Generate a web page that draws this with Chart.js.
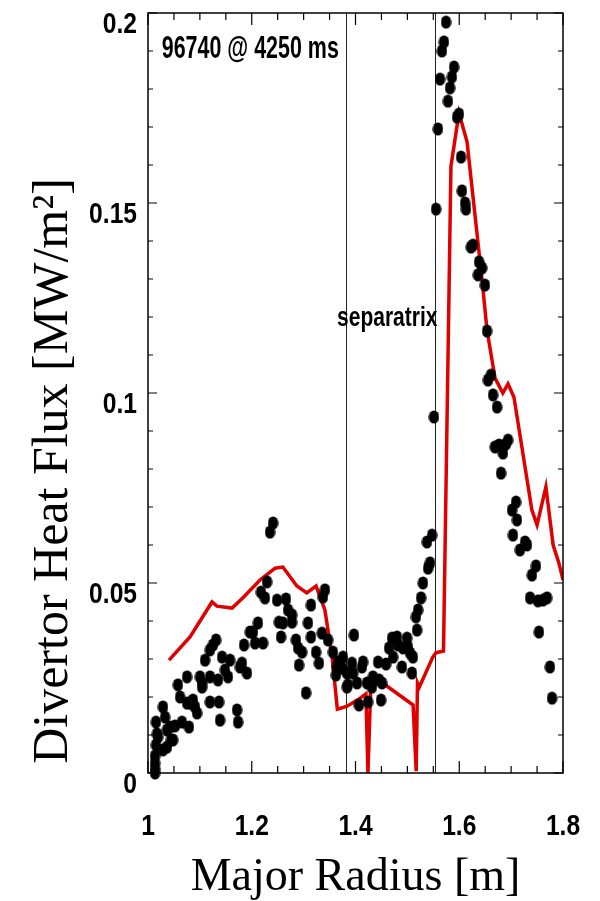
<!DOCTYPE html>
<html>
<head>
<meta charset="utf-8">
<script src="https://cdn.jsdelivr.net/npm/chart.js@4.4.0/dist/chart.umd.min.js"></script>
<style>
  html, body { margin: 0; padding: 0; background: #fff; }
</style>
</head>
<body>
<canvas id="heatFlux" width="600" height="901"></canvas>
<script>
// IR camera heat flux, major radius [m]
var irRadius = [
  1.0135,1.0135,1.0135,1.0135,1.0154,1.0173,1.0154,1.0193,1.0289,1.0328,
  1.0366,1.0366,1.0289,1.0424,1.0443,1.0482,1.052,1.0578,1.0617,1.0655,
  1.0752,1.0752,1.079,1.081,1.0848,1.0867,1.0906,1.0945,1.1002,1.1041,
  1.1041,1.1099,1.1195,1.1195,1.1195,1.1253,1.1311,1.1349,1.1369,1.1388,
  1.1427,1.1484,1.1542,1.1581,1.1716,1.1735,1.1773,1.1812,1.1851,1.1908,
  1.1966,
  1.2024,1.2063,1.212,1.2178,1.2217,1.2255,1.2294,1.2352,1.241,1.2487,
  1.2525,1.2564,1.2602,1.266,1.2699,1.2776,1.2776,1.2853,1.2892,1.2911,
  1.2969,1.3046,1.3084,1.3142,1.3142,1.3239,1.3296,1.3354,1.3373,1.3412,
  1.347,1.3566,1.3624,1.3643,1.3663,1.374,1.3759,1.3836,1.3836,
  1.3855,1.3932,1.3952,1.3971,1.4029,1.4067,1.4125,1.4145,1.4222,1.4241,
  1.4318,1.4337,1.4434,1.4453,1.4492,1.4511,1.4588,1.4646,1.4704,1.4723,
  1.48,1.4819,1.4896,1.4916,1.4993,1.5012,1.5051,1.5089,1.5108,1.5166,
  1.5186,1.5205,1.5263,1.5301,1.5378,1.5398,1.5436,1.5475,
  1.5513,1.5552,1.559,1.5629,1.5667,1.5706,1.5745,1.5783,1.5822,1.586,
  1.5899,1.5957,1.5995,1.6034,1.6053,1.6111,1.613,1.6226,1.6265,1.6361,
  1.6381,1.6439,1.6496,
  1.6535,1.6554,1.6612,1.6651,1.6689,1.6728,1.6766,1.6805,1.6843,1.6901,
  1.694,1.7017,1.7036,1.7094,1.7113,1.7171,1.7268,1.7306,1.7364,1.7402,
  1.7479,1.7518,1.7537,1.7614,1.7692,1.7749,1.7788
];
// IR camera heat flux [MW/m2], same order as irRadius
var irFlux = [
  0.0045,0.0026,0.0011,0.0,0.0134,0.0103,0.0074,0.0095,0.0174,0.0147,
  0.0113,0.0068,0.0061,0.0121,0.0087,0.0087,0.0124,0.0232,0.02,0.0134,
  0.0253,0.0184,0.0121,0.0184,0.0187,0.0192,0.0174,0.0158,0.0253,0.0237,
  0.0226,0.0297,0.0253,0.0187,0.0324,0.0337,0.035,0.0245,0.0187,0.0139,
  0.0305,0.0271,0.0253,0.0297,0.0166,0.0134,0.0279,0.0289,0.0337,0.0263,
  0.0371,
  0.0371,0.0342,0.0395,0.0476,0.0342,0.0461,0.0503,0.0634,0.0658,0.0455,
  0.0397,0.0358,0.0395,0.0458,0.0429,0.0416,0.0397,0.035,0.0329,0.0284,
  0.0318,0.0211,0.0395,0.0442,0.0358,0.0318,0.0289,0.0368,0.0463,0.0482,
  0.035,0.0318,0.0258,0.0279,0.0292,0.0276,0.0305,0.0263,0.0226,
  0.0232,0.0289,0.0263,0.0363,0.0237,0.0179,0.0279,0.0292,0.0237,0.0187,
  0.0226,0.0253,0.0292,0.0245,0.0192,0.0237,0.0287,0.0329,0.0355,0.0305,
  0.0358,0.0337,0.0279,0.0329,0.0355,0.0332,0.0316,0.0263,0.0305,0.0411,
  0.0376,0.0429,0.0461,0.05,0.0608,0.0539,0.0553,0.0626,
  0.0937,0.1484,0.1695,0.1826,0.19,0.1924,0.1976,0.1768,0.1803,0.1832,
  0.1858,0.1726,0.1734,0.1621,0.1532,0.15,0.1484,0.1384,0.1389,0.1311,
  0.1345,0.1329,0.1284,
  0.1163,0.1034,0.1047,0.0995,0.0858,0.0963,0.0863,0.0789,0.0842,0.0866,
  0.0876,0.0692,0.0626,0.0713,0.0666,0.0587,0.0608,0.06,0.0461,0.0521,
  0.0545,0.0453,0.0371,0.0455,0.0461,0.0279,0.0197
];

// modelled profile
var modelRadius = [1.0405,1.081,1.1234,1.133,1.162,1.183,1.216,1.245,1.26,1.287,
  1.306,1.324,1.341,1.355,1.365,1.384,1.409,1.42,1.424,1.43,
  1.457,1.511,1.517,1.5195,1.523,1.549,1.555,1.5696,1.584,1.5995,
  1.615,1.644,1.6535,1.669,1.684,1.694,1.7055,1.74,1.75,1.767,
  1.781,1.792,1.8];
var modelFlux = [0.0297,0.0358,0.045,0.0439,0.0434,0.0461,0.0508,0.0539,0.0542,0.0492,
  0.0474,0.0492,0.0429,0.0305,0.0168,0.0176,0.0197,0.0208,0,0.0253,
  0.0232,0.0179,0.0005,0.0237,0.0226,0.0305,0.0316,0.0321,0.1597,0.1737,
  0.1661,0.1297,0.1166,0.1039,0.1,0.1024,0.0989,0.0692,0.0653,0.0753,
  0.06,0.0553,0.0508];

var separatrixR = [1.3826, 1.5533];

var xTickVals = [1, 1.2, 1.4, 1.6, 1.8];
var xTickText = ['1', '1.2', '1.4', '1.6', '1.8'];
var yTickVals = [0, 0.05, 0.1, 0.15, 0.2];
var yTickText = ['0', '0.05', '0.1', '0.15', '0.2'];

// Liberation Sans Bold squeezed horizontally stands in for a narrow face
var sans = "'Liberation Sans', Arial, sans-serif";
var serif = "'Liberation Serif', 'Times New Roman', serif";

function tickIndex(vals, v) {
  for (var i = 0; i < vals.length; i++) {
    if (Math.abs(vals[i] - v) < 1e-6) return i;
  }
  return -1;
}

function pairs(xs, ys) {
  return xs.map(function(x, i) { return {x: x, y: ys[i]}; });
}

function narrowText(ctx, text, x, y, squeeze, align) {
  ctx.save();
  ctx.translate(x, y);
  ctx.scale(squeeze, 1);
  ctx.textAlign = align || 'left';
  ctx.fillText(text, 0, 0);
  ctx.restore();
}

// filled oval marker, a bit taller than wide
var dot = document.createElement('canvas');
dot.width = 11;
dot.height = 14;
var dctx = dot.getContext('2d');
dctx.fillStyle = '#000';
dctx.beginPath();
dctx.ellipse(5.5, 7, 5.2, 6.6, 0, 0, Math.PI * 2);
dctx.fill();

var framePlugin = {
  id: 'frame',
  beforeDatasetsDraw: function(chart) {
    var ctx = chart.ctx, a = chart.chartArea, xs = chart.scales.x;
    ctx.save();
    ctx.strokeStyle = '#222';
    ctx.lineWidth = 1;
    separatrixR.forEach(function(r) {
      var px = Math.round(xs.getPixelForValue(r)) + 0.5;
      ctx.beginPath();
      ctx.moveTo(px, a.top);
      ctx.lineTo(px, a.bottom);
      ctx.stroke();
    });
    ctx.restore();
  },
  afterDatasetsDraw: function(chart) {
    var ctx = chart.ctx, a = chart.chartArea;
    var xs = chart.scales.x, ys = chart.scales.y;
    ctx.save();
    ctx.strokeStyle = '#000';
    ctx.lineWidth = 1.5;
    ctx.strokeRect(a.left, a.top, a.right - a.left, a.bottom - a.top);

    // inward ticks on all four sides
    ctx.lineWidth = 1.2;
    xs.ticks.forEach(function(t) {
      var px = xs.getPixelForValue(t.value);
      var len = tickIndex(xTickVals, t.value) >= 0 ? 12 : 7;
      ctx.beginPath();
      ctx.moveTo(px, a.bottom);
      ctx.lineTo(px, a.bottom - len);
      ctx.moveTo(px, a.top);
      ctx.lineTo(px, a.top + len);
      ctx.stroke();
    });
    ys.ticks.forEach(function(t) {
      var py = ys.getPixelForValue(t.value);
      var len = tickIndex(yTickVals, t.value) >= 0 ? 9 : 5;
      ctx.beginPath();
      ctx.moveTo(a.left, py);
      ctx.lineTo(a.left + len, py);
      ctx.moveTo(a.right, py);
      ctx.lineTo(a.right - len, py);
      ctx.stroke();
    });

    // tick labels
    ctx.fillStyle = '#000';
    ctx.textBaseline = 'alphabetic';
    ctx.font = 'bold 30px ' + sans;
    xTickVals.forEach(function(v, i) {
      narrowText(ctx, xTickText[i], xs.getPixelForValue(v), a.bottom + 62, 0.82, 'center');
    });
    yTickVals.forEach(function(v, i) {
      narrowText(ctx, yTickText[i], a.left - 11, ys.getPixelForValue(v) + 20, 0.82, 'right');
    });

    // annotations
    ctx.font = 'bold 32px ' + sans;
    narrowText(ctx, '96740 @ 4250 ms', xs.getPixelForValue(1.0265), ys.getPixelForValue(0.1882), 0.67);
    ctx.font = 'bold 28px ' + sans;
    narrowText(ctx, 'separatrix', xs.getPixelForValue(1.3645), ys.getPixelForValue(0.1176), 0.75);

    // axis titles
    ctx.textAlign = 'center';
    ctx.font = '46px ' + serif;
    ctx.fillText('Major Radius [m]', (a.left + a.right) / 2, 890);

    ctx.save();
    ctx.translate(67, 471);
    ctx.rotate(-Math.PI / 2);
    ctx.font = '50px ' + serif;
    ctx.fillText('Divertor Heat Flux [MW/m\u00B2]', 0, 0);
    ctx.restore();

    ctx.restore();
  }
};

new Chart(document.getElementById('heatFlux'), {
  type: 'scatter',
  data: {
    datasets: [{
      label: 'IR data',
      data: pairs(irRadius, irFlux),
      pointStyle: dot,
      pointRadius: 6,
      clip: false,
      order: 0
    }, {
      label: 'model',
      data: pairs(modelRadius, modelFlux),
      showLine: true,
      borderColor: '#e00000',
      borderWidth: 3.5,
      pointRadius: 0,
      tension: 0,
      order: 1
    }]
  },
  plugins: [framePlugin],
  options: {
    responsive: false,
    animation: false,
    devicePixelRatio: 1,
    events: [],
    layout: { padding: { top: 13, right: 37, left: 0, bottom: 0 } },
    plugins: {
      legend: { display: false },
      tooltip: { enabled: false }
    },
    scales: {
      x: {
        type: 'linear',
        min: 1,
        max: 1.8,
        grid: { display: false, drawTicks: false },
        border: { display: false },
        ticks: { stepSize: 0.05, autoSkip: false, display: false },
        afterFit: function(scale) {
          scale.height = 128;
          scale.paddingLeft = 0;
          scale.paddingRight = 0;
        }
      },
      y: {
        type: 'linear',
        min: 0,
        max: 0.2,
        grid: { display: false, drawTicks: false },
        border: { display: false },
        ticks: { stepSize: 0.01, autoSkip: false, display: false },
        afterFit: function(scale) {
          scale.width = 148;
          scale.paddingTop = 0;
          scale.paddingBottom = 0;
        }
      }
    }
  }
});
</script>
</body>
</html>
